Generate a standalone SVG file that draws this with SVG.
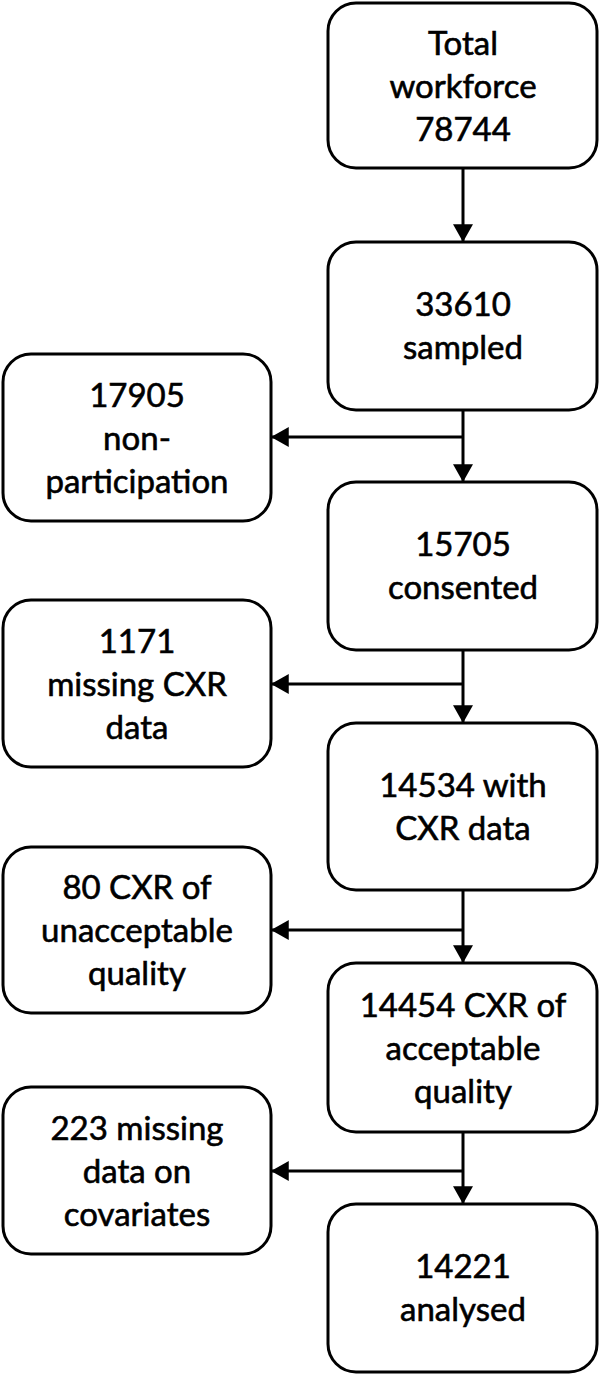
<svg xmlns="http://www.w3.org/2000/svg" width="599" height="1374" viewBox="0 0 599 1374">
<style>
.box{fill:#fff;stroke:#000;stroke-width:3}
.t{font-family:Lato,"Liberation Sans",sans-serif;font-size:33px;fill:#000;stroke:#000;stroke-width:0.6;text-anchor:middle}
.c{stroke:#000;stroke-width:3;fill:none}
</style>
<defs>
<marker id="ah" markerUnits="userSpaceOnUse" markerWidth="18" markerHeight="20" viewBox="0 0 16 18" refX="16" refY="9" orient="auto">
<path d="M0,0 L16,9 L0,18 Z" fill="#000"/>
</marker>
</defs>
<rect width="599" height="1374" fill="#fff"/>
<g id="connectors">
<line class="c" x1="463" y1="168" x2="463" y2="242" marker-end="url(#ah)"/>
<line class="c" x1="463" y1="410" x2="463" y2="482" marker-end="url(#ah)"/>
<line class="c" x1="463" y1="437" x2="271" y2="437" marker-end="url(#ah)"/>
<line class="c" x1="463" y1="650" x2="463" y2="723" marker-end="url(#ah)"/>
<line class="c" x1="463" y1="684" x2="271" y2="684" marker-end="url(#ah)"/>
<line class="c" x1="463" y1="890" x2="463" y2="963" marker-end="url(#ah)"/>
<line class="c" x1="463" y1="930" x2="271" y2="930" marker-end="url(#ah)"/>
<line class="c" x1="463" y1="1132" x2="463" y2="1204" marker-end="url(#ah)"/>
<line class="c" x1="463" y1="1171" x2="271" y2="1171" marker-end="url(#ah)"/>
</g>
<g id="n1"><rect class="box" x="328" y="3" width="269" height="165" rx="28"/>
<text class="t" x="463" y="55">Total</text><text class="t" x="463" y="98">workforce</text><text class="t" x="463" y="141">78744</text></g>
<g id="n2"><rect class="box" x="328" y="242" width="269" height="168" rx="28"/>
<text class="t" x="463" y="316">33610</text><text class="t" x="463" y="359">sampled</text></g>
<g id="n3"><rect class="box" x="328" y="482" width="269" height="168" rx="28"/>
<text class="t" x="463" y="556">15705</text><text class="t" x="463" y="599">consented</text></g>
<g id="n4"><rect class="box" x="328" y="723" width="269" height="167" rx="28"/>
<text class="t" x="463" y="797">14534 with</text><text class="t" x="463" y="840">CXR data</text></g>
<g id="n5"><rect class="box" x="328" y="963" width="269" height="169" rx="28"/>
<text class="t" x="463" y="1017">14454 CXR of</text><text class="t" x="463" y="1060">acceptable</text><text class="t" x="463" y="1103">quality</text></g>
<g id="n6"><rect class="box" x="328" y="1204" width="269" height="168" rx="28"/>
<text class="t" x="463" y="1278">14221</text><text class="t" x="463" y="1321">analysed</text></g>
<g id="e1"><rect class="box" x="3" y="354" width="268" height="167" rx="28"/>
<text class="t" x="137" y="407">17905</text><text class="t" x="137" y="450">non-</text><text class="t" x="137" y="493">participation</text></g>
<g id="e2"><rect class="box" x="3" y="600" width="268" height="167" rx="28"/>
<text class="t" x="137" y="653">1171</text><text class="t" x="137" y="696">missing CXR</text><text class="t" x="137" y="739">data</text></g>
<g id="e3"><rect class="box" x="3" y="847" width="268" height="166" rx="28"/>
<text class="t" x="137" y="899">80 CXR of</text><text class="t" x="137" y="942">unacceptable</text><text class="t" x="137" y="985">quality</text></g>
<g id="e4"><rect class="box" x="3" y="1087" width="268" height="167" rx="28"/>
<text class="t" x="137" y="1140">223 missing</text><text class="t" x="137" y="1183">data on</text><text class="t" x="137" y="1226">covariates</text></g>
</svg>
